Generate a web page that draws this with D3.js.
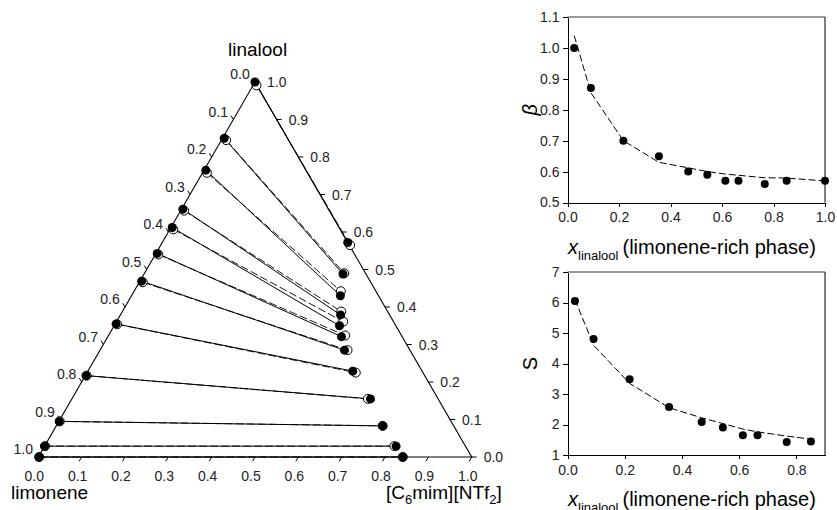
<!DOCTYPE html>
<html lang="en">
<head>
<meta charset="utf-8">
<title></title>
<style>
  body { margin: 0; background: #fff; }
  svg { display: block; font-family: "Liberation Sans", Arial, sans-serif; }
  .axis text { font-size: 14px; fill: #222; }
  .axis path, .axis line { stroke: #000; shape-rendering: crispEdges; }
</style>
</head>
<body>
<div id="container"></div>
<script src="https://cdnjs.cloudflare.com/ajax/libs/d3/7.8.5/d3.min.js"></script>
<script>
// ternary tie lines, top to bottom: mole fractions [C6mim][NTf2] (IL) and linalool (lin)
// limonene-rich phase, experimental
var limLin = [1.0, 0.850, 0.765, 0.661, 0.612, 0.543, 0.469, 0.355, 0.217, 0.095, 0.029, 0.0];
var limIL  = [0.0, 0.004, 0.004, 0.003, 0.003, 0.003, 0.004, 0.002, 0.002, 0.001, 0.0, 0.002];
// IL-rich phase, experimental
var ilLin = [0.572, 0.488, 0.430, 0.379, 0.350, 0.321, 0.285, 0.229, 0.155, 0.083, 0.029, 0.0];
var ilIL  = [0.428, 0.459, 0.482, 0.508, 0.520, 0.539, 0.564, 0.611, 0.689, 0.753, 0.811, 0.841];
// calculated (open circles, dashed)
var limLinCalc = [0.991, 0.845, 0.758, 0.657, 0.607, 0.540, 0.466, 0.354, 0.217, 0.095, 0.029, 0.0];
var limILCalc  = [0.008, 0.011, 0.010, 0.008, 0.008, 0.007, 0.008, 0.005, 0.003, 0.002, 0.001, 0.002];
var ilLinCalc = [0.565, 0.490, 0.442, 0.388, 0.361, 0.324, 0.285, 0.225, 0.155, 0.083, 0.029, 0.0];
var ilILCalc  = [0.437, 0.461, 0.477, 0.505, 0.523, 0.546, 0.571, 0.620, 0.683, 0.753, 0.807, 0.841];

var ternTicks = [0, 0.1, 0.2, 0.3, 0.4, 0.5, 0.6, 0.7, 0.8, 0.9, 1.0];

// distribution ratio and selectivity vs x_linalool in limonene-rich phase
var xLinalool = [0.026, 0.091, 0.217, 0.355, 0.469, 0.543, 0.613, 0.664, 0.766, 0.851, 1.0];
var betaExp  = [1.00, 0.87, 0.70, 0.65, 0.60, 0.59, 0.57, 0.57, 0.56, 0.57, 0.57];
var betaCalc = [1.04, 0.855, 0.70, 0.63, 0.612, 0.60, 0.592, 0.588, 0.58, 0.579, 0.57];
var sExp  = [6.05, 4.80, 3.48, 2.57, 2.08, 1.90, 1.65, 1.65, 1.43, 1.44];
var sCalc = [6.10, 4.60, 3.35, 2.55, 2.22, 2.03, 1.85, 1.76, 1.62, 1.52];

var svg = d3.select("#container").append("svg")
  .attr("width", 837).attr("height", 510);

// ---------- ternary diagram ----------
var tx = d3.scaleLinear().domain([0, 1]).range([38.3, 471.7]);
var ty = d3.scaleLinear().domain([0, 1]).range([457, 82]);
function proj(il, lin) { return [tx(il + lin / 2), ty(lin)]; }

var tern = svg.append("g");
var corners = [proj(0, 0), proj(1, 0), proj(0, 1)];
tern.append("path")
  .attr("d", "M" + corners.join("L") + "Z")
  .attr("fill", "none").attr("stroke", "#000").attr("stroke-width", 1.1);

var f1 = d3.format(".1f");
// bottom axis: IL fraction
ternTicks.forEach(function(t) {
  var p = proj(t, 0);
  tern.append("line").attr("x1", p[0]).attr("y1", p[1])
    .attr("x2", p[0] - 2.5).attr("y2", p[1] + 4.3).attr("stroke", "#000");
  tern.append("text").attr("class", "tl").attr("x", p[0] - 4).attr("y", p[1] + 24)
    .attr("text-anchor", "middle").text(f1(t));
});
// right axis: linalool fraction
ternTicks.forEach(function(t) {
  var p = proj(1 - t, t);
  tern.append("line").attr("x1", p[0]).attr("y1", p[1])
    .attr("x2", p[0] + 5).attr("y2", p[1]).attr("stroke", "#000");
  tern.append("text").attr("class", "tl").attr("x", p[0] + 12).attr("y", p[1] + 5)
    .attr("text-anchor", "start").text(f1(t));
});
// left axis: limonene fraction
ternTicks.forEach(function(t) {
  var p = proj(0, 1 - t);
  tern.append("line").attr("x1", p[0]).attr("y1", p[1])
    .attr("x2", p[0] - 2.2).attr("y2", p[1] - 3.8).attr("stroke", "#000");
  tern.append("text").attr("class", "tl").attr("x", p[0] - 15).attr("y", p[1] - 3)
    .attr("text-anchor", "middle").text(f1(t));
});
tern.selectAll("text.tl").style("font-size", "14px").attr("fill", "#222");

// tie lines
var tie = limLin.map(function(d, i) {
  return { a: proj(limIL[i], limLin[i]), b: proj(ilIL[i], ilLin[i]),
           ca: proj(limILCalc[i], limLinCalc[i]), cb: proj(ilILCalc[i], ilLinCalc[i]) };
});
tern.selectAll("line.calc").data(tie).enter().append("line")
  .attr("x1", function(d) { return d.ca[0]; }).attr("y1", function(d) { return d.ca[1]; })
  .attr("x2", function(d) { return d.cb[0]; }).attr("y2", function(d) { return d.cb[1]; })
  .attr("stroke", "#000").attr("stroke-width", 0.9).attr("stroke-dasharray", "8,3");
tern.selectAll("line.exp").data(tie).enter().append("line")
  .attr("x1", function(d) { return d.a[0]; }).attr("y1", function(d) { return d.a[1]; })
  .attr("x2", function(d) { return d.b[0]; }).attr("y2", function(d) { return d.b[1]; })
  .attr("stroke", "#000").attr("stroke-width", 1);

var openPts = [], fillPts = [];
tie.forEach(function(d) { openPts.push(d.ca, d.cb); fillPts.push(d.a, d.b); });
tern.selectAll("circle.o").data(openPts).enter().append("circle")
  .attr("cx", function(d) { return d[0]; }).attr("cy", function(d) { return d[1]; })
  .attr("r", 4.5).attr("fill", "#fff").attr("stroke", "#000").attr("stroke-width", 1);
tern.selectAll("circle.f").data(fillPts).enter().append("circle")
  .attr("cx", function(d) { return d[0]; }).attr("cy", function(d) { return d[1]; })
  .attr("r", 4.5).attr("fill", "#000");

// vertex labels
tern.append("text").attr("x", 228).attr("y", 56).style("font-size", "19px").text("linalool");
tern.append("text").attr("x", 11).attr("y", 499).style("font-size", "19px").text("limonene");
var il = tern.append("text").attr("x", 386).attr("y", 499).style("font-size", "19px");
il.append("tspan").text("[C");
il.append("tspan").attr("dy", 5).style("font-size", "13px").text("6");
il.append("tspan").attr("dy", -5).text("mim][NTf");
il.append("tspan").attr("dy", 5).style("font-size", "13px").text("2");
il.append("tspan").attr("dy", -5).text("]");

// ---------- side plots ----------
function sidePlot(top, bottom, xMax, yDom, yTicks, yFmt, xs, exp, calc, yLabel, yLabelStyle) {
  var left = 567.5, right = 825;
  var x = d3.scaleLinear().domain([0, xMax]).range([left, right]);
  var y = d3.scaleLinear().domain(yDom).range([bottom, top]);
  var g = svg.append("g");

  g.append("line").attr("x1", left).attr("x2", right).attr("y1", top).attr("y2", top)
    .attr("stroke", "#777").attr("stroke-width", 1.6);
  g.append("line").attr("x1", right).attr("x2", right).attr("y1", top).attr("y2", bottom)
    .attr("stroke", "#000");

  g.append("g").attr("class", "axis")
    .attr("transform", "translate(0," + bottom + ")")
    .call(d3.axisBottom(x).tickValues(d3.range(0, xMax + 0.001, 0.2)).tickSize(4).tickSizeOuter(0)
      .tickPadding(6).tickFormat(d3.format(".1f")));
  g.append("g").attr("class", "axis")
    .attr("transform", "translate(" + left + ",0)")
    .call(d3.axisLeft(y).tickValues(yTicks).tickSize(5).tickSizeOuter(0)
      .tickPadding(3).tickFormat(yFmt));

  var line = d3.line().x(function(d) { return x(d[0]); }).y(function(d) { return y(d[1]); });
  g.append("path").datum(xs.map(function(v, i) { return [v, calc[i]]; }))
    .attr("d", line).attr("fill", "none").attr("stroke", "#000")
    .attr("stroke-width", 1).attr("stroke-dasharray", "7,3");
  g.selectAll("circle").data(xs.map(function(v, i) { return [v, exp[i]]; }))
    .enter().append("circle")
    .attr("cx", function(d) { return x(d[0]); }).attr("cy", function(d) { return y(d[1]); })
    .attr("r", 4).attr("fill", "#000");

  var xl = g.append("text").attr("x", 568).attr("y", bottom + 51).style("font-size", "20px");
  xl.append("tspan").style("font-style", "italic").text("x");
  xl.append("tspan").attr("dy", 6).style("font-size", "13px").text("linalool");
  xl.append("tspan").attr("dy", -6).attr("dx", 4).text("(limonene-rich phase)");

  var cy = (top + bottom) / 2;
  g.append("text").attr("transform", "translate(537," + cy + ") rotate(-90)")
    .attr("text-anchor", "middle").style("font-size", "20px").style("font-style", yLabelStyle)
    .text(yLabel);
}

sidePlot(17, 202.5, 1.0, [0.5, 1.1], [0.5, 0.6, 0.7, 0.8, 0.9, 1.0, 1.1], d3.format(".1f"),
  xLinalool, betaExp, betaCalc, "β", "italic");
sidePlot(272, 455, 0.9, [1, 7], [1, 2, 3, 4, 5, 6, 7], d3.format("d"),
  xLinalool.slice(0, sExp.length), sExp, sCalc, "S", "normal");
</script>
</body>
</html>
